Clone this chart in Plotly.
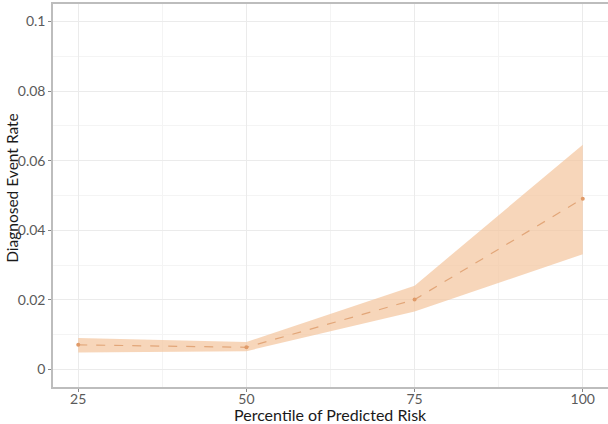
import plotly.graph_objects as go

percentile = [25, 50, 75, 100]
rate = [0.0071, 0.0064, 0.0201, 0.0491]
lower = [0.0049, 0.0053, 0.0167, 0.0331]
upper = [0.0091, 0.0079, 0.0241, 0.0646]

fig = go.Figure()
fig.add_trace(go.Scatter(x=percentile, y=upper, mode="lines", line=dict(width=0),
                         showlegend=False, hoverinfo="skip"))
fig.add_trace(go.Scatter(x=percentile, y=lower, mode="lines", line=dict(width=0),
                         fill="tonexty", fillcolor="rgba(243,196,156,0.70)",
                         showlegend=False, hoverinfo="skip"))
fig.add_trace(go.Scatter(x=percentile, y=rate, mode="lines+markers",
                         line=dict(color="#E2A679", width=1.2, dash="dash"),
                         marker=dict(color="#E09A68", size=4),
                         showlegend=False))

font = "Lato, 'Open Sans', sans-serif"
fig.update_layout(
    width=608, height=424,
    margin=dict(l=53, r=0, t=4, b=37),
    paper_bgcolor="white", plot_bgcolor="white",
    font=dict(family=font, color="#5a5a5a", size=14),
    xaxis=dict(range=[21.25, 103.75], tickvals=[25, 50, 75, 100],
               ticktext=["25", "50", "75", "100"], automargin=False,
               showgrid=True, gridcolor="#EBEBEB", gridwidth=1,
               minor=dict(tickvals=[37.5, 62.5, 87.5], showgrid=True,
                          gridcolor="#F4F4F4", gridwidth=1),
               showline=True, linecolor="#BDBDBD", linewidth=1.5, mirror=True,
               ticks="outside", ticklen=3, tickcolor="#888888",
               ticklabelstandoff=-5,
               zeroline=False),
    yaxis=dict(range=[-0.005, 0.105], tickvals=[0, 0.02, 0.04, 0.06, 0.08, 0.1],
               ticktext=["0", "0.02", "0.04", "0.06", "0.08", "0.1"], automargin=False,
               showgrid=True, gridcolor="#EBEBEB", gridwidth=1,
               minor=dict(tickvals=[0.01, 0.03, 0.05, 0.07, 0.09], showgrid=True,
                          gridcolor="#F4F4F4", gridwidth=1),
               showline=True, linecolor="#BDBDBD", linewidth=1.5, mirror=True,
               ticks="outside", ticklen=3, tickcolor="#888888",
               zeroline=False),
    annotations=[
        dict(text="Percentile of Predicted Risk", xref="paper", yref="paper",
             x=0.5, y=-27 / 383, xanchor="center", yanchor="middle", showarrow=False,
             font=dict(size=16, color="#1a1a1a", family=font)),
        dict(text="Diagnosed Event Rate", xref="paper", yref="paper",
             x=-41 / 555, y=0.52, xanchor="center", yanchor="middle", showarrow=False,
             textangle=-90, font=dict(size=15.5, color="#1a1a1a", family=font)),
    ],
)
fig.write_html("out.html", config={"displayModeBar": False},
               post_script="document.body.style.margin='0px';")
